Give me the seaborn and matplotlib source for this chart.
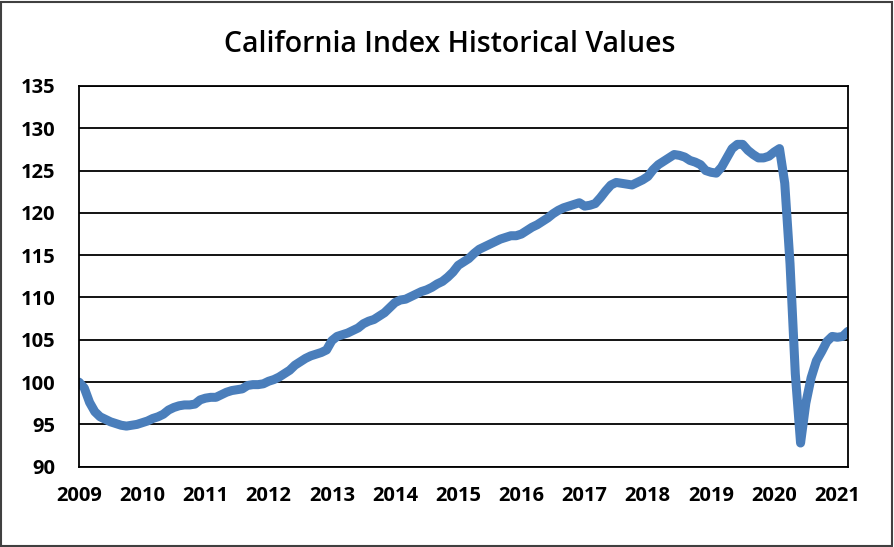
import matplotlib
matplotlib.use("Agg")
import matplotlib.pyplot as plt
import seaborn as sns
import pandas as pd
from matplotlib.patches import Rectangle

# Monthly index values, Jan 2009 .. Mar 2021
values = [
    100.0, 99.3, 97.6, 96.5, 95.9, 95.6, 95.3, 95.1, 94.9, 94.8, 94.9, 95.0,
    95.2, 95.4, 95.7, 95.9, 96.2, 96.7, 97.0, 97.2, 97.3, 97.3, 97.4, 97.9,
    98.1, 98.2, 98.2, 98.5, 98.8, 99.0, 99.1, 99.2, 99.6, 99.7, 99.7, 99.8,
    100.1, 100.3, 100.6, 101.0, 101.4, 102.0, 102.4, 102.8, 103.1, 103.3, 103.5, 103.8,
    104.9, 105.4, 105.6, 105.8, 106.1, 106.4, 106.9, 107.2, 107.4, 107.8, 108.2, 108.8,
    109.4, 109.7, 109.8, 110.1, 110.4, 110.7, 110.9, 111.2, 111.6, 111.9, 112.4, 113.0,
    113.8, 114.2, 114.6, 115.2, 115.7, 116.0, 116.3, 116.6, 116.9, 117.1, 117.3, 117.3,
    117.5, 117.9, 118.3, 118.6, 119.0, 119.4, 119.9, 120.3, 120.6, 120.8, 121.0, 121.2,
    120.8, 120.9, 121.1, 121.8, 122.6, 123.3, 123.6, 123.5, 123.4, 123.3, 123.6, 123.9,
    124.3, 125.1, 125.7, 126.1, 126.5, 126.9, 126.8, 126.6, 126.2, 126.0, 125.7, 125.0,
    124.8, 124.7, 125.4, 126.5, 127.6, 128.1, 128.1, 127.4, 126.9, 126.5, 126.5, 126.7,
    127.2, 127.6, 123.5, 114.0, 101.0, 92.8, 97.5, 100.5, 102.5, 103.6, 104.8, 105.4,
    105.3, 105.4, 106.0,
]
year_labels = [str(y) for y in range(2009, 2022)]
y_ticks = [90, 95, 100, 105, 110, 115, 120, 125, 130, 135]

df = pd.DataFrame({"month": range(len(values)), "value": values})

sns.set_theme(style="white")
plt.rcParams["font.family"] = ["Open Sans", "DejaVu Sans"]

fig = plt.figure(figsize=(8.94, 5.47), dpi=100)
ax = fig.add_axes([0.0884, 0.1468, 0.9485 - 0.0884, 0.8428 - 0.1468])

sns.lineplot(data=df, x="month", y="value", ax=ax, color="#4A7EBB",
             linewidth=6.5, solid_capstyle="round", solid_joinstyle="round")

ax.set_xlim(0, len(values) - 1)
ax.set_ylim(90, 135)
ax.set_yticks(y_ticks)
ax.set_yticklabels([str(t) for t in y_ticks], fontsize=14.5, fontweight="bold")
ax.set_xticks([12 * i for i in range(len(year_labels))])
ax.set_xticklabels(year_labels, fontsize=14.5, fontweight="bold")
ax.set_xlabel("")
ax.set_ylabel("")

ax.yaxis.grid(True, color="black", linewidth=1.3)
ax.xaxis.grid(False)
ax.set_axisbelow(True)
for s in ax.spines.values():
    s.set_visible(True)
    s.set_color("black")
    s.set_linewidth(1.3)

ax.tick_params(axis="y", length=0, pad=17, colors="black")
ax.tick_params(axis="x", direction="inout", length=10, width=1.2, pad=9, colors="black")

fig.text(0.503, 0.918, "California Index Historical Values", ha="center", va="center",
         fontsize=20.5, fontweight="semibold", color="black")

fig.patches.append(Rectangle((0.001, 0.001), 0.997, 0.996, transform=fig.transFigure,
                             fill=False, edgecolor="#404040", linewidth=1.5))

fig.savefig("out.png", dpi=100)
